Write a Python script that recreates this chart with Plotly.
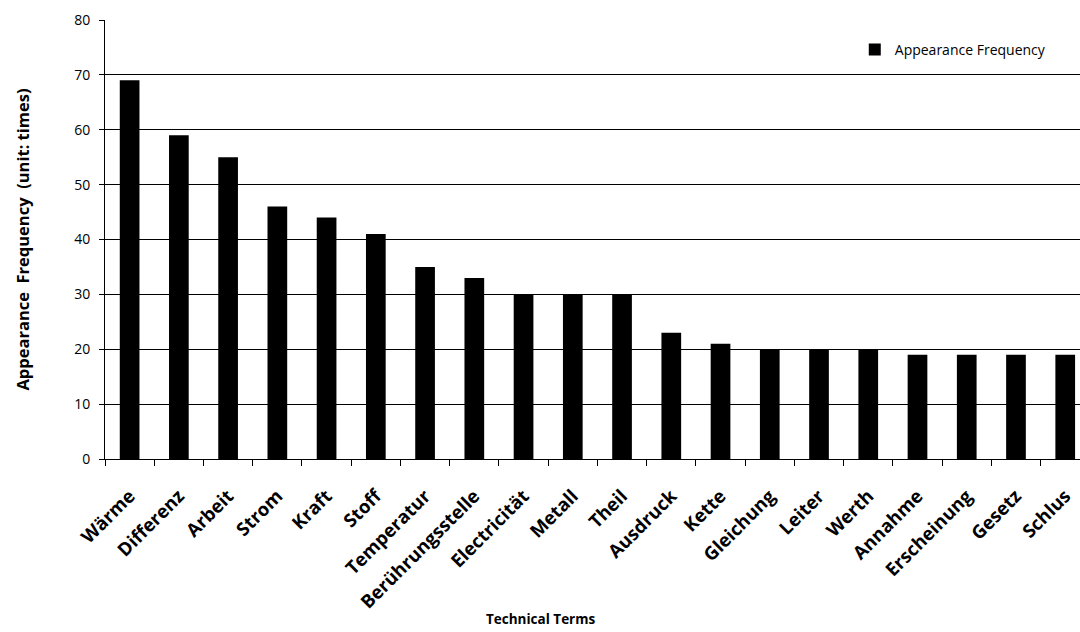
import plotly.graph_objects as go

terms = ["Wärme", "Differenz", "Arbeit", "Strom", "Kraft", "Stoff", "Temperatur",
         "Berührungsstelle", "Electricität", "Metall", "Theil", "Ausdruck", "Kette",
         "Gleichung", "Leiter", "Werth", "Annahme", "Erscheinung", "Gesetz", "Schlus"]
frequency = [69, 59, 55, 46, 44, 41, 35, 33, 30, 30, 30, 23, 21, 20, 20, 20, 19, 19, 19, 19]
y_ticks = [0, 10, 20, 30, 40, 50, 60, 70, 80]

FONT = "Open Sans"

fig = go.Figure(go.Bar(
    x=terms, y=frequency, name="Appearance Frequency",
    marker=dict(color="black", line=dict(width=0)),
    width=0.4, showlegend=True,
))

fig.update_layout(
    width=1080, height=632,
    margin=dict(l=105, r=0, t=20, b=173),
    paper_bgcolor="white", plot_bgcolor="white",
    font=dict(family=FONT, color="black"),
    legend=dict(x=0.769, y=0.932, xanchor="left", yanchor="middle",
                font=dict(family=FONT, size=14, color="black"),
                bgcolor="rgba(0,0,0,0)", itemwidth=30),
    xaxis=dict(
        type="category", range=[-0.5, 19.3],
        showline=True, linecolor="black", linewidth=1,
        ticks="outside", ticklen=6, tickcolor="black", tickson="boundaries",
        tickangle=-45, ticklabelstandoff=18,
        tickfont=dict(family=FONT, size=18.5, color="black", weight="bold"),
        showgrid=False,
    ),
    yaxis=dict(
        range=[0, 80], tickvals=y_ticks,
        showline=True, linecolor="black", linewidth=1,
        ticks="outside", ticklen=5, tickcolor="black",
        showgrid=True, gridcolor="black", gridwidth=1,
        ticklabelstandoff=6,
        tickfont=dict(family=FONT, size=14, color="black"),
        title=dict(text="Appearance  Frequency  (unit: times)", standoff=40,
                   font=dict(family=FONT, size=16.5, color="black", weight="bold")),
        zeroline=False,
    ),
    annotations=[dict(
        text="Technical Terms", xref="paper", yref="paper",
        x=0.447, y=-0.364, xanchor="center", yanchor="middle", showarrow=False,
        font=dict(family=FONT, size=13.5, color="black", weight="bold"),
    )],
)

fig.write_html("out.html")
